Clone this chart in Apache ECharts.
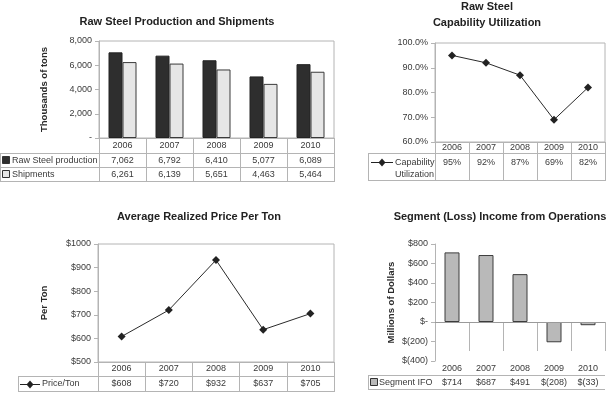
<!DOCTYPE html>
<html>
<head>
<meta charset="utf-8">
<script src="https://cdn.jsdelivr.net/npm/echarts@6/dist/echarts.min.js"></script>
<style>html,body{margin:0;padding:0;background:#fff}#c{width:606px;height:393px}</style>
</head>
<body>
<div id="c"></div>
<script>
// ---- data ----
const categories = ['2006', '2007', '2008', '2009', '2010'];
const rawSteel = [7062, 6792, 6410, 5077, 6089];
const shipments = [6261, 6139, 5651, 4463, 5464];
const utilization = [95, 92, 87, 69, 82];
const price = [608, 720, 932, 637, 705];
const segmentIFO = [714, 687, 491, -208, -33];

const titles = ['Raw Steel Production and Shipments', 'Raw Steel\nCapability Utilization',
  'Average Realized Price Per Ton', 'Segment (Loss) Income from Operations'];

// ---- formatters ----
const fmtThousands = v => v === 0 ? '-' : v.toLocaleString('en-US');
const fmtPct1 = v => v.toFixed(1) + '%';
const fmtPct0 = v => v + '%';
const fmtDollar = v => '$' + v;
const fmtDollarParen = v => v === 0 ? '$-' : (v < 0 ? '$(' + Math.abs(v) + ')' : '$' + v);

const FONT = '"Liberation Sans", Arial, sans-serif';
const TXT = '#3a3a3a';
const LINE = '#b4b4b4';

const chart = echarts.init(document.getElementById('c'), null, {renderer: 'canvas'});

function mainX(grid, tickLen, margin) {
  return {
    type: 'category', gridIndex: grid, data: categories, position: 'bottom',
    axisLine: {show: true, lineStyle: {color: LINE}},
    axisTick: {show: true, length: tickLen, lineStyle: {color: LINE}},
    axisLabel: {interval: 0, margin: margin, verticalAlign: 'middle', fontSize: 9, color: TXT, fontFamily: FONT},
    splitLine: {show: false}
  };
}
function rowX(grid, offset, arr, fmt) {
  return {
    type: 'category', gridIndex: grid, data: categories, position: 'bottom', offset: offset,
    axisLine: {show: false}, axisTick: {show: false},
    axisLabel: {interval: 0, margin: 0, verticalAlign: 'middle', fontSize: 9, color: TXT, fontFamily: FONT,
      formatter: (val, idx) => fmt(arr[idx])},
    splitLine: {show: false}
  };
}
function valY(grid, min, max, interval, fmt, name, nameGap) {
  return {
    type: 'value', gridIndex: grid, min: min, max: max, interval: interval,
    name: name || '', nameLocation: 'middle', nameGap: nameGap || 0, nameRotate: 90,
    nameTextStyle: {fontSize: 9.5, fontWeight: 'bold', color: '#2a2a2a', fontFamily: FONT},
    axisLine: {show: true, lineStyle: {color: LINE}},
    axisTick: {show: true, length: 4, lineStyle: {color: LINE}},
    axisLabel: {formatter: fmt, fontSize: 9, color: TXT, fontFamily: FONT, margin: 7},
    splitLine: {show: false}
  };
}

// graphic helpers
const g = [];
function hline(x1, x2, y) { g.push({type: 'line', shape: {x1: x1, y1: y + 0.5, x2: x2, y2: y + 0.5}, style: {stroke: LINE, lineWidth: 1}, silent: true}); }
function vline(x, y1, y2) { g.push({type: 'line', shape: {x1: x + 0.5, y1: y1, x2: x + 0.5, y2: y2}, style: {stroke: LINE, lineWidth: 1}, silent: true}); }
function label(x, y, text) { g.push({type: 'text', x: x, y: y, style: {text: text, font: '9px ' + FONT, fill: TXT, textVerticalAlign: 'middle', verticalAlign: 'middle'}, silent: true}); }
function square(x, y, fill) { g.push({type: 'rect', shape: {x: x + 0.5, y: y + 0.5, width: 7, height: 7}, style: {fill: fill, stroke: '#333', lineWidth: 1}, silent: true}); }
function lineIcon(x1, x2, y) {
  g.push({type: 'line', shape: {x1: x1, y1: y + 0.5, x2: x2, y2: y + 0.5}, style: {stroke: '#222', lineWidth: 1}, silent: true});
  const cx = (x1 + x2) / 2;
  g.push({type: 'polygon', shape: {points: [[cx, y - 3.5], [cx + 3.5, y + 0.5], [cx, y + 4.5], [cx - 3.5, y + 0.5]]}, style: {fill: '#222'}, silent: true});
}

// chart 1 table header rows
hline(0, 334, 153); hline(0, 334, 167); hline(0, 334, 181); vline(0, 153, 182);
square(2, 156, '#2e2e2e'); label(12, 161, 'Raw Steel production');
square(2, 170, '#e6e6e6'); label(12, 175, 'Shipments');
// chart 2
hline(368, 605, 153); hline(368, 605, 180); vline(368, 153, 181);
lineIcon(371, 393, 162); label(395, 163, 'Capability'); label(395, 175, 'Utilization');
// chart 3
hline(18, 334, 376); hline(18, 334, 391); vline(18, 376, 392);
lineIcon(20, 40, 384); label(42, 384, 'Price/Ton');
// chart 4
hline(368, 605, 375); hline(368, 605, 389); vline(368, 375, 390);
square(370, 378, '#b9b9b9'); label(379, 383, 'Segment IFO');

const titleStyle = {fontSize: 11, fontWeight: 'bold', color: '#222', fontFamily: FONT, lineHeight: 16};

const option = {
  animation: false,
  backgroundColor: '#fff',
  title: [
    {text: titles[0], left: 177, top: 14, textAlign: 'center', padding: 0, textStyle: titleStyle},
    {text: titles[1], left: 487, top: -1, textAlign: 'center', padding: 0, textStyle: titleStyle},
    {text: titles[2], left: 199, top: 209, textAlign: 'center', padding: 0, textStyle: titleStyle},
    {text: titles[3], left: 500, top: 209, textAlign: 'center', padding: 0, textStyle: titleStyle}
  ],
  grid: [
    {left: 99, top: 41, width: 235, height: 97, show: true, borderColor: LINE, borderWidth: 1, containLabel: false},
    {left: 435, top: 43, width: 170, height: 99, show: true, borderColor: LINE, borderWidth: 1, containLabel: false},
    {left: 98, top: 244, width: 236, height: 118, show: true, borderColor: LINE, borderWidth: 1, containLabel: false},
    {left: 435, top: 244, width: 170, height: 117, show: false, containLabel: false}
  ],
  xAxis: [
    mainX(0, 44, 8),
    rowX(0, 23, rawSteel, fmtThousands),
    rowX(0, 37, shipments, fmtThousands),
    mainX(1, 39, 6),
    rowX(1, 21, utilization, fmtPct0),
    mainX(2, 30, 7),
    rowX(2, 22, price, fmtDollar),
    mainX(3, 29, 8),
    rowX(3, 22, segmentIFO, fmtDollarParen)
  ],
  yAxis: [
    valY(0, 0, 8000, 2000, fmtThousands, 'Thousands of tons', 50),
    valY(1, 60, 100, 10, fmtPct1),
    valY(2, 500, 1000, 100, fmtDollar, 'Per Ton', 49),
    valY(3, -400, 800, 200, fmtDollarParen, 'Millions of Dollars', 39)
  ],
  series: [
    {name: 'Raw Steel production', type: 'bar', xAxisIndex: 0, yAxisIndex: 0, data: rawSteel,
      barWidth: 14, barGap: '0%', itemStyle: {color: '#2e2e2e', borderColor: '#222', borderWidth: 1}},
    {name: 'Shipments', type: 'bar', xAxisIndex: 0, yAxisIndex: 0, data: shipments,
      barWidth: 14, barGap: '0%', itemStyle: {color: '#e6e6e6', borderColor: '#3a3a3a', borderWidth: 1}},
    {name: 'Capability Utilization', type: 'line', xAxisIndex: 3, yAxisIndex: 1, data: utilization,
      symbol: 'diamond', symbolSize: 8, lineStyle: {color: '#2a2a2a', width: 1}, itemStyle: {color: '#222'}},
    {name: 'Price/Ton', type: 'line', xAxisIndex: 5, yAxisIndex: 2, data: price,
      symbol: 'diamond', symbolSize: 8, lineStyle: {color: '#2a2a2a', width: 1}, itemStyle: {color: '#222'}},
    {name: 'Segment IFO', type: 'bar', xAxisIndex: 7, yAxisIndex: 3, data: segmentIFO,
      barWidth: 15, itemStyle: {color: '#b9b9b9', borderColor: '#3c3c3c', borderWidth: 1},
      markLine: {silent: true, symbol: ['none', 'none'], label: {show: false},
        lineStyle: {color: '#9a9a9a', type: 'solid', width: 1}, data: [{yAxis: 0}]}}
  ],
  graphic: g
};
chart.setOption(option);
</script>
</body>
</html>
